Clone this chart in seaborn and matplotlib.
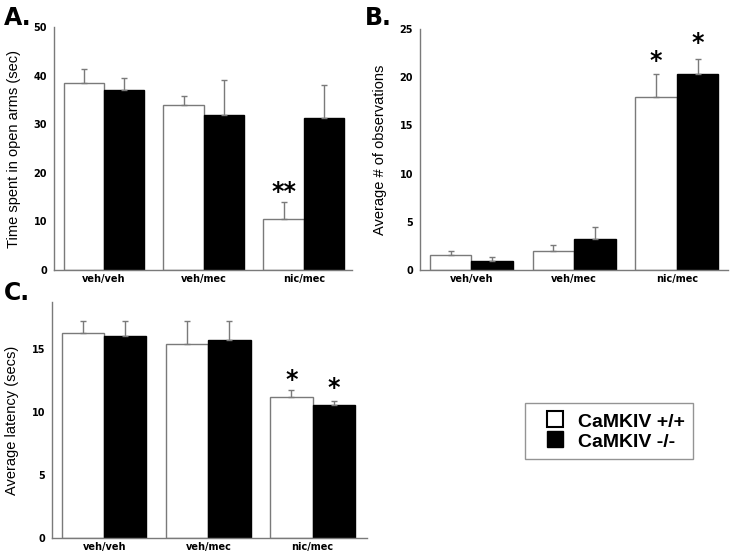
import numpy as np
import pandas as pd
import matplotlib
matplotlib.use('Agg')
import matplotlib.pyplot as plt
from matplotlib.lines import Line2D
import seaborn as sns

sns.set_style('white')
plt.rcParams['font.family'] = ['Liberation Sans', 'DejaVu Sans']
for k in ['text.color', 'axes.labelcolor', 'xtick.color', 'ytick.color']:
    plt.rcParams[k] = 'black'

# ─── data ────────────────────────────────────────────────────────────────────
groups = ['veh/veh', 'veh/mec', 'nic/mec']
genotypes = ['CaMKIV +/+', 'CaMKIV -/-']

a_wt = [38.5, 33.9, 10.5]
a_ko = [37.0, 31.9, 31.2]
a_wt_err = [2.9, 1.9, 3.5]
a_ko_err = [2.5, 7.1, 6.9]

b_wt = [1.55, 1.95, 17.9]
b_ko = [0.93, 3.2, 20.3]
b_wt_err = [0.4, 0.6, 2.4]
b_ko_err = [0.42, 1.3, 1.6]

c_wt = [16.2, 15.4, 11.2]
c_ko = [16.0, 15.7, 10.5]
c_wt_err = [1.0, 1.8, 0.5]
c_ko_err = [1.2, 1.5, 0.35]

GREY = '#7a7a7a'


def panel(ax, wt, ko, wt_err, ko_err, ylim, yticks, ylabel, stars):
    df = pd.DataFrame({
        'group': groups * 2,
        'genotype': [genotypes[0]] * 3 + [genotypes[1]] * 3,
        'value': wt + ko,
    })
    sns.barplot(data=df, x='group', y='value', hue='genotype', order=groups,
                hue_order=genotypes, palette=['white', 'black'], width=0.81,
                errorbar=None, legend=False, ax=ax, saturation=1)
    errs = wt_err + ko_err
    vals = wt + ko
    for i, p in enumerate(ax.patches[:6]):
        p.set_edgecolor(GREY if i < 3 else 'black')
        p.set_linewidth(1.0)
        xc = p.get_x() + p.get_width() / 2
        ax.errorbar(xc, vals[i], yerr=[[0], [errs[i]]], fmt='none',
                    ecolor=GREY, elinewidth=1.0, capsize=2.5, capthick=1.0)
    for i, txt, y in stars:
        p = ax.patches[i]
        ax.text(p.get_x() + p.get_width() / 2, y, txt, ha='center', va='center',
                fontsize=17, fontweight='bold', family='DejaVu Sans')
    ax.set_xlim(-0.5, 2.48)
    ax.set_ylim(*ylim)
    ax.set_yticks(yticks)
    ax.tick_params(axis='y', length=0, pad=5)
    ax.tick_params(axis='x', length=0, pad=3)
    ax.set_xlabel('')
    ax.set_ylabel(ylabel, fontsize=10.5, labelpad=9)
    for lab in ax.get_xticklabels() + ax.get_yticklabels():
        lab.set_fontweight('heavy')
        lab.set_fontsize(7)
        lab.set_family('DejaVu Sans')
    for s in ['top', 'right']:
        ax.spines[s].set_visible(False)
    for s in ['left', 'bottom']:
        ax.spines[s].set_color(GREY)
        ax.spines[s].set_linewidth(1.0)


fig = plt.figure(figsize=(7.37, 5.56), dpi=100)
axA = fig.add_axes([0.0733, 0.5144, 0.404, 0.437])
axB = fig.add_axes([0.570, 0.5144, 0.418, 0.4334])
axC = fig.add_axes([0.0706, 0.0324, 0.427, 0.4246])

panel(axA, a_wt, a_ko, a_wt_err, a_ko_err, (0, 50), [0, 10, 20, 30, 40, 50],
      'Time spent in open arms (sec)', [(2, '**', 16.0)])
panel(axB, b_wt, b_ko, b_wt_err, b_ko_err, (0, 25), [0, 5, 10, 15, 20, 25],
      'Average # of observations', [(2, '*', 21.7), (5, '*', 23.5)])
panel(axC, c_wt, c_ko, c_wt_err, c_ko_err, (0, 18.7), [0, 5, 10, 15],
      'Average latency (secs)', [(2, '*', 12.5), (5, '*', 11.9)])
axB.set_xlim(-0.5, 2.5)
axC.set_xlim(-0.5, 2.52)

for x, y, t in [(0.005, 0.99, 'A.'), (0.495, 0.99, 'B.'), (0.005, 0.495, 'C.')]:
    fig.text(x, y, t, ha='left', va='top', fontsize=17, fontweight='heavy',
             family='DejaVu Sans')

handles = [Line2D([], [], marker='s', linestyle='none', markersize=11,
                  markerfacecolor='white', markeredgecolor='black', markeredgewidth=1.5),
           Line2D([], [], marker='s', linestyle='none', markersize=11,
                  markerfacecolor='black', markeredgecolor='black')]
leg = fig.legend(handles, genotypes, loc='center', bbox_to_anchor=(0.8263, 0.2248),
                 frameon=True, fancybox=False, edgecolor=GREY,
                 prop={'weight': 'bold', 'size': 14}, handlelength=2.2,
                 handleheight=1.0, handletextpad=0.1, borderpad=0.4,
                 labelspacing=0.05, borderaxespad=0)
leg.get_frame().set_linewidth(1.0)

fig.savefig('out.png', dpi=100)
